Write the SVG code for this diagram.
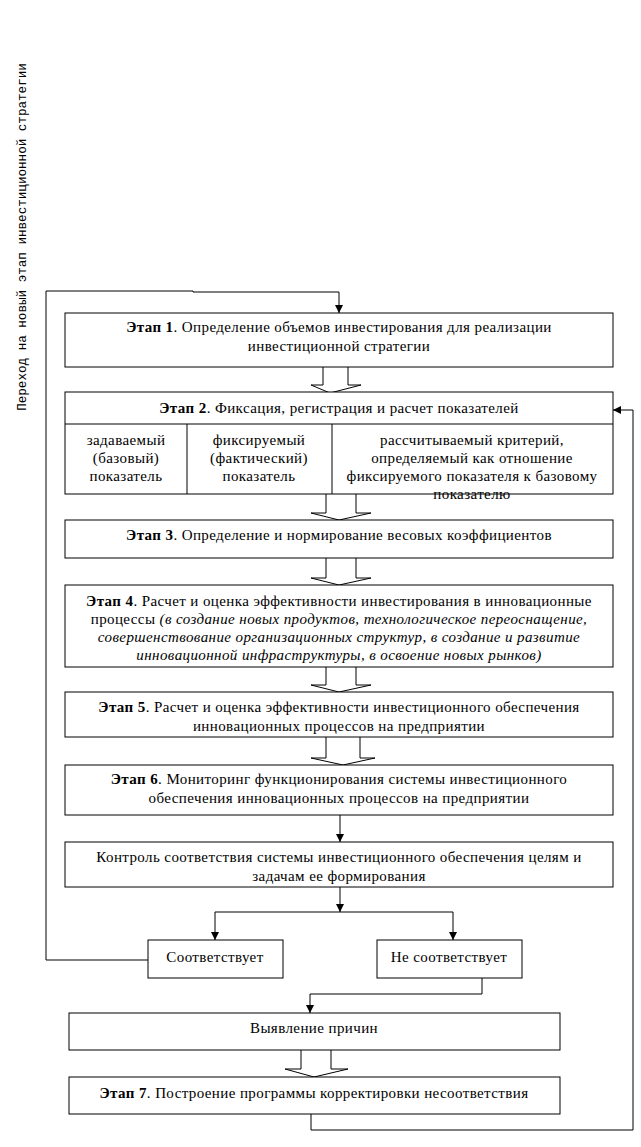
<svg xmlns="http://www.w3.org/2000/svg" width="641" height="1147" viewBox="0 0 641 1147">
<style>
.box{fill:#fff;stroke:#000;stroke-width:1}
.ln{fill:none;stroke:#000;stroke-width:1}
.blk{fill:#fff;stroke:#000;stroke-width:1}
text{font-family:"Liberation Serif","Times New Roman",serif;font-size:15px;letter-spacing:0.4px;fill:#000;text-anchor:middle}
.b{font-weight:bold}
.i{font-style:italic}
.v{font-family:"Liberation Mono","Courier New",monospace;font-size:12.6px;letter-spacing:0}
</style>
<defs>
<marker id="ah" markerUnits="userSpaceOnUse" markerWidth="8" markerHeight="9" refX="8" refY="4" orient="auto">
<path d="M0,0 L8,4 L0,8 Z" fill="#000"/>
</marker>
</defs>
<rect width="641" height="1147" fill="#fff"/>
<text class="v" transform="translate(26,237) rotate(-90)">Переход на новый этап инвестиционной стратегии</text>

<g id="connectors">
<polyline class="ln" points="148,960 46,960 46,291 193,291 193,292 339,292 339,313" marker-end="url(#ah)"/>
<polyline class="ln" points="311,1114 311,1130 633,1130 633,410 613,410" marker-end="url(#ah)"/>
<polyline class="blk" points="323,367 323,385 311,385 330,393 361,385 348,385 348,367"/>
<polyline class="blk" points="326,494 326,513 311,513 339,520 371,513 356,513 356,494"/>
<polyline class="blk" points="326,558 326,578 311,578 339,585 371,578 356,578 356,558"/>
<polyline class="blk" points="326,667 326,685 311,685 339,692 371,685 356,685 356,667"/>
<polyline class="blk" points="326,737 326,758 311,758 343,765 375,758 360,758 360,737"/>
<line class="ln" x1="340" y1="815" x2="340" y2="842" marker-end="url(#ah)"/>
<line class="ln" x1="340" y1="887" x2="340" y2="912" marker-end="url(#ah)"/>
<polyline class="ln" points="215,912 453,912"/>
<line class="ln" x1="215" y1="912" x2="215" y2="940" marker-end="url(#ah)"/>
<line class="ln" x1="453" y1="912" x2="453" y2="940" marker-end="url(#ah)"/>
<polyline class="ln" points="482,978 482,994 310,994 310,1013" marker-end="url(#ah)"/>
<polyline class="blk" points="301,1050 301,1069 285,1069 314,1077 348,1069 331,1069 331,1050"/>
</g>

<g id="stage1">
<rect class="box" x="65" y="313" width="548" height="54"/>
<text x="339" y="332"><tspan class="b">Этап 1</tspan>. Определение объемов инвестирования для реализации</text>
<text x="339" y="351">инвестиционной стратегии</text>
</g>

<g id="stage2">
<rect class="box" x="65" y="392" width="548" height="102"/>
<line class="ln" x1="65" y1="424" x2="613" y2="424"/>
<line class="ln" x1="187" y1="424" x2="187" y2="494"/>
<line class="ln" x1="332" y1="424" x2="332" y2="494"/>
<text x="339" y="413"><tspan class="b">Этап 2</tspan>. Фиксация, регистрация и расчет показателей</text>
<text x="126" y="445">задаваемый</text>
<text x="126" y="463">(базовый)</text>
<text x="126" y="481">показатель</text>
<text x="259" y="445">фиксируемый</text>
<text x="259" y="463">(фактический)</text>
<text x="259" y="481">показатель</text>
<text x="472" y="445">рассчитываемый критерий,</text>
<text x="472" y="463">определяемый как отношение</text>
<text x="472" y="481">фиксируемого показателя к базовому</text>
<text x="472" y="499">показателю</text>
</g>

<g id="stage3">
<rect class="box" x="65" y="520" width="548" height="38"/>
<text x="339" y="540"><tspan class="b">Этап 3</tspan>. Определение и нормирование весовых коэффициентов</text>
</g>

<g id="stage4">
<rect class="box" x="65" y="585" width="548" height="82"/>
<text x="339" y="606"><tspan class="b">Этап 4</tspan>. Расчет и оценка эффективности инвестирования в инновационные</text>
<text x="339" y="624">процессы <tspan class="i">(в создание новых продуктов, технологическое переоснащение,</tspan></text>
<text x="339" y="642" class="i">совершенствование организационных структур, в создание и развитие</text>
<text x="339" y="660" class="i">инновационной инфраструктуры, в освоение новых рынков)</text>
</g>

<g id="stage5">
<rect class="box" x="65" y="692" width="548" height="45"/>
<text x="339" y="712"><tspan class="b">Этап 5</tspan>. Расчет и оценка эффективности инвестиционного обеспечения</text>
<text x="339" y="731">инновационных процессов на предприятии</text>
</g>

<g id="stage6">
<rect class="box" x="65" y="765" width="548" height="50"/>
<text x="339" y="784"><tspan class="b">Этап 6</tspan>. Мониторинг функционирования системы инвестиционного</text>
<text x="339" y="803">обеспечения инновационных процессов на предприятии</text>
</g>

<g id="control">
<rect class="box" x="65" y="842" width="548" height="45"/>
<text x="339" y="862">Контроль соответствия системы инвестиционного обеспечения целям и</text>
<text x="339" y="881">задачам ее формирования</text>
</g>

<g id="match">
<rect class="box" x="148" y="940" width="135" height="38"/>
<text x="215" y="962">Соответствует</text>
</g>

<g id="nomatch">
<rect class="box" x="377" y="940" width="145" height="38"/>
<text x="449" y="962">Не соответствует</text>
</g>

<g id="causes">
<rect class="box" x="69" y="1013" width="491" height="37"/>
<text x="314" y="1033">Выявление причин</text>
</g>

<g id="stage7">
<rect class="box" x="69" y="1077" width="491" height="37"/>
<text x="314" y="1098"><tspan class="b">Этап 7</tspan>. Построение программы корректировки несоответствия</text>
</g>
</svg>
